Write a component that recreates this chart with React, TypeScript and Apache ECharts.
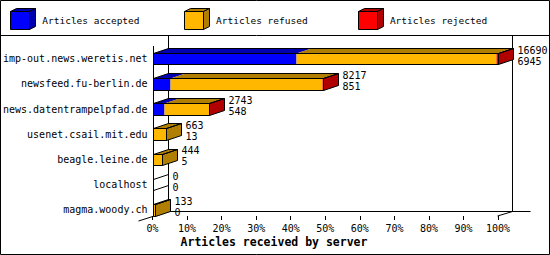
import React, { useEffect, useRef } from "react";
import * as echarts from "echarts";

const categories = [
  "imp-out.news.weretis.net",
  "newsfeed.fu-berlin.de",
  "news.datentrampelpfad.de",
  "usenet.csail.mit.edu",
  "beagle.leine.de",
  "localhost",
  "magma.woody.ch",
];
const accepted = [6945, 851, 548, 13, 5, 0, 0];
const refused = [9625, 7326, 2185, 650, 439, 0, 133];
const rejected = [120, 40, 10, 0, 0, 0, 0];
const seriesNames = ["Articles accepted", "Articles refused", "Articles rejected"];
const axisTitle = "Articles received by server";

const COLORS = ["#0000ff", "#ffb700", "#ff0000"];
const DARK = ["#0000b0", "#b07e00", "#b00000"];
const MONO = "'DejaVu Sans Mono', 'Liberation Mono', monospace";
const DX = 15;
const DY = -5;
const LEFT = 152.5;
const WIDTH = 345.6;
const TOP = 46;

export default function App() {
  const ref = useRef<HTMLDivElement>(null);
  useEffect(() => {
    if (!ref.current) return;
    const chart = echarts.init(ref.current, null, { renderer: "svg" });
    const totals = categories.map((_, i) => accepted[i] + refused[i] + rejected[i]);
    const MAX = Math.max(...totals);
    const barData = categories.map((_, i) => [i, accepted[i], refused[i], rejected[i]]);

    const legendEls: any[] = [];
    seriesNames.forEach((name, k) => {
      const x = 10 + k * 173.8;
      const xr = Math.round(x) + 0.5;
      legendEls.push({
        type: "polygon",
        shape: { points: [[xr, 11.5], [xr + 6, 8.5], [xr + 25, 8.5], [xr + 19, 11.5]] },
        style: { fill: DARK[k], stroke: "#000", lineWidth: 1 },
      });
      legendEls.push({
        type: "polygon",
        shape: { points: [[xr + 19, 11.5], [xr + 25, 8.5], [xr + 25, 26.5], [xr + 19, 29.5]] },
        style: { fill: DARK[k], stroke: "#000", lineWidth: 1 },
      });
      legendEls.push({
        type: "rect",
        shape: { x: xr, y: 11.5, width: 19, height: 18 },
        style: { fill: COLORS[k], stroke: "#000", lineWidth: 1 },
      });
      legendEls.push({
        type: "text",
        x: x + 32.3,
        y: 20,
        style: { text: name, font: `9.5px ${MONO}`, fill: "#000", textVerticalAlign: "middle", textAlign: "left" },
      });
    });

    const option: any = {
      animation: false,
      backgroundColor: "#fff",
      grid: [
        { left: LEFT, top: TOP, width: WIDTH, height: 176.4 },
        { left: LEFT, top: TOP, width: WIDTH, height: 170 },
      ],
      xAxis: [
        { gridIndex: 0, type: "value", min: 0, max: MAX, show: false },
        {
          gridIndex: 1,
          type: "value",
          min: 0,
          max: MAX,
          interval: MAX / 10,
          axisLine: { show: false },
          axisTick: { show: true, length: 4, lineStyle: { color: "#000", width: 1 } },
          axisLabel: {
            margin: 7,
            color: "#000",
            fontFamily: MONO,
            fontSize: 10,
            formatter: (v: number) => Math.round((v / MAX) * 100) + "%",
          },
          splitLine: { show: false },
        },
      ],
      yAxis: [
        {
          gridIndex: 0,
          type: "category",
          data: categories,
          inverse: true,
          axisLine: { show: false },
          axisTick: { show: false },
          splitLine: { show: false },
          axisLabel: { margin: 5, color: "#000", fontFamily: MONO, fontSize: 10 },
        },
        { gridIndex: 1, type: "value", min: 0, max: 1, show: false },
      ],
      graphic: [
        {
          type: "rect",
          shape: { x: 0.5, y: 0.5, width: 549, height: 254 },
          style: { fill: "none", stroke: "#000", lineWidth: 1 },
          z: 100,
        },
        {
          type: "line",
          shape: { x1: 0, y1: 35.5, x2: 550, y2: 35.5 },
          style: { stroke: "#000", lineWidth: 1 },
          z: 100,
        },
        ...legendEls,
        {
          type: "text",
          x: 274,
          y: 242,
          style: {
            text: axisTitle,
            font: `bold 11.5px ${MONO}`,
            fill: "#000",
            textAlign: "center",
            textVerticalAlign: "middle",
          },
        },
      ],
      series: [
        {
          type: "custom",
          name: "frame",
          xAxisIndex: 1,
          yAxisIndex: 1,
          data: [[0, 0]],
          z: 1,
          silent: true,
          renderItem: (params: any, api: any) => {
            const p0 = api.coord([0, 0]);
            const p1 = api.coord([MAX, 0]);
            const x0 = Math.round(p0[0]) + 0.5;
            const x1 = Math.round(p1[0]) - 0.5;
            const yf = Math.round(p0[1]);
            const yb = yf + DY + 0.5;
            const st = { stroke: "#000", lineWidth: 1, fill: "none" };
            return {
              type: "group",
              children: [
                { type: "line", shape: { x1: x0, y1: TOP, x2: x0, y2: yf }, style: st },
                { type: "line", shape: { x1: x0 + DX, y1: 36, x2: x0 + DX, y2: yb }, style: st },
                { type: "line", shape: { x1: x1 + DX, y1: 36, x2: x1 + DX, y2: yb }, style: st },
                { type: "line", shape: { x1: x0 + DX, y1: yb, x2: x1 + DX + 18, y2: yb }, style: st },
                { type: "line", shape: { x1: x0 - DX, y1: yf + 5, x2: x0 + DX, y2: yb }, style: st },
                { type: "line", shape: { x1: x1, y1: yf, x2: x1 + DX, y2: yb }, style: st },
              ],
            };
          },
        },
        {
          type: "custom",
          name: "bars",
          xAxisIndex: 0,
          yAxisIndex: 0,
          data: barData,
          encode: { x: 1, y: 0 },
          z: 2,
          renderItem: (params: any, api: any) => {
            const i = api.value(0);
            const vals = [api.value(1), api.value(2), api.value(3)];
            const band = api.size([0, 1])[1];
            const h = band * 0.46;
            const yc = api.coord([0, i])[1];
            const top = Math.round(yc - h / 2) + 0.5;
            const bot = Math.round(yc + h / 2) + 0.5;
            const X = (v: number) => Math.round(api.coord([v, i])[0]) + 0.5;
            const children: any[] = [];
            let cum = 0;
            let last = -1;
            for (let k = 0; k < 3; k++) {
              if (vals[k] <= 0) continue;
              const xa = X(cum);
              const xb = X(cum + vals[k]);
              children.push({
                type: "rect",
                shape: { x: xa, y: top, width: xb - xa, height: bot - top },
                style: { fill: COLORS[k] },
              });
              children.push({
                type: "polygon",
                shape: { points: [[xa, top], [xa + DX, top + DY], [xb + DX, top + DY], [xb, top]] },
                style: { fill: DARK[k] },
              });
              cum += vals[k];
              last = k;
            }
            const xs = X(0);
            const xe = X(cum);
            children.push({
              type: "polygon",
              shape: { points: [[xe, top], [xe + DX, top + DY], [xe + DX, bot + DY], [xe, bot]] },
              style: { fill: last >= 0 ? DARK[last] : "none", stroke: "#000", lineWidth: 1 },
            });
            if (xe > xs) {
              children.push({
                type: "polygon",
                shape: { points: [[xs, top], [xs + DX, top + DY], [xe + DX, top + DY], [xe, top]] },
                style: { fill: "none", stroke: "#000", lineWidth: 1 },
              });
              children.push({
                type: "rect",
                shape: { x: xs, y: top, width: xe - xs, height: bot - top },
                style: { fill: "none", stroke: "#000", lineWidth: 1 },
              });
            }
            children.push({
              type: "text",
              x: xe + DX + 4,
              y: yc - 3,
              style: {
                text: cum + "\n" + vals[0],
                font: `10px ${MONO}`,
                lineHeight: 11,
                fill: "#000",
                textAlign: "left",
                textVerticalAlign: "middle",
              },
            });
            return { type: "group", children };
          },
        },
      ],
    };
    chart.setOption(option);
    return () => chart.dispose();
  }, []);
  return (
    <div
      ref={ref}
      style={{ position: "fixed", left: 0, top: 0, width: 550, height: 255, background: "#fff" }}
    />
  );
}
